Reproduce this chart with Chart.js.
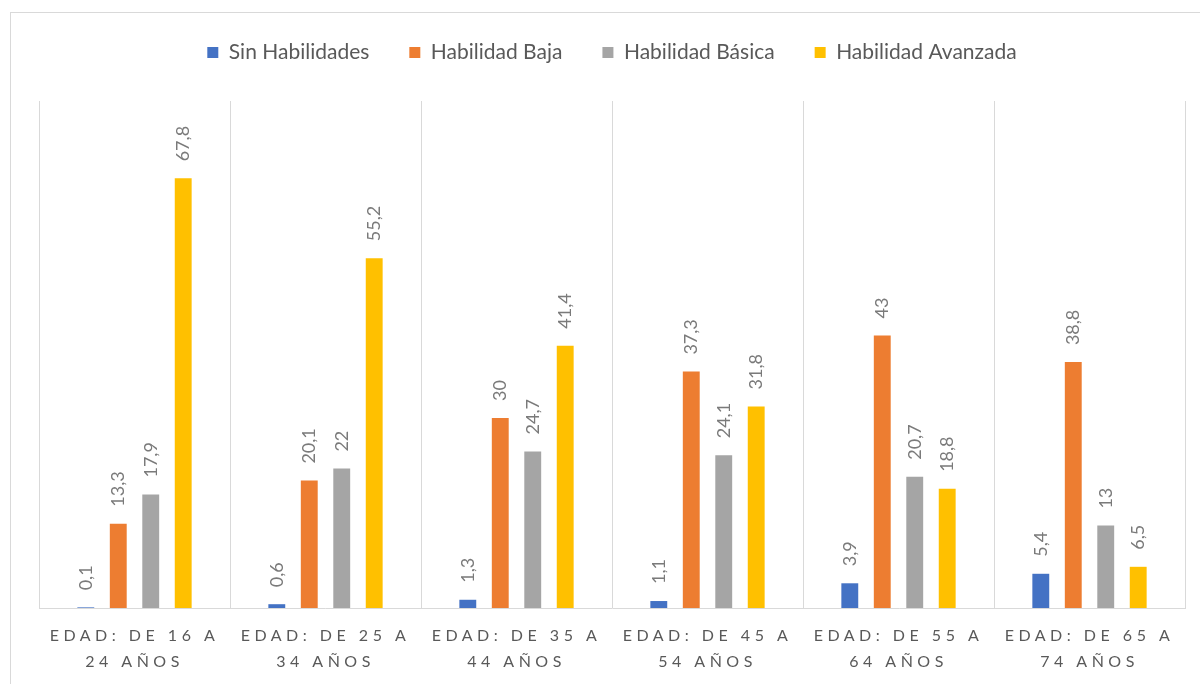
<!DOCTYPE html>
<html>
<head>
<meta charset="utf-8">
<script src="https://cdn.jsdelivr.net/npm/chart.js@4.4.1/dist/chart.umd.min.js"></script>
<style>
  body { margin: 0; background: #fff; }
  #frame { position: absolute; left: 10px; top: 12px; width: 1200px; height: 700px; border: 1px solid #d9d9d9; }
  #wrap { position: absolute; left: 0; top: 0; width: 1200px; height: 684px; }
</style>
</head>
<body>
<div id="frame"></div>
<div id="wrap"><canvas id="chart" width="1200" height="684"></canvas></div>
<script>
var categories = [
    ["EDAD: DE 16 A", "24 AÑOS"],
    ["EDAD: DE 25 A", "34 AÑOS"],
    ["EDAD: DE 35 A", "44 AÑOS"],
    ["EDAD: DE 45 A", "54 AÑOS"],
    ["EDAD: DE 55 A", "64 AÑOS"],
    ["EDAD: DE 65 A", "74 AÑOS"]
];
var sinHabilidades = [0.1, 0.6, 1.3, 1.1, 3.9, 5.4];
var habilidadBaja = [13.3, 20.1, 30, 37.3, 43, 38.8];
var habilidadBasica = [17.9, 22, 24.7, 24.1, 20.7, 13];
var habilidadAvanzada = [67.8, 55.2, 41.4, 31.8, 18.8, 6.5];

var textColor = "#595959";
var font = "Lato, 'Open Sans', sans-serif";

// labels on top of bars, turned 90 degrees
var barLabels = {
    id: "barLabels",
    beforeInit: function (chart) {
        // more room under the legend
        var fit = chart.legend.fit;
        chart.legend.fit = function () {
            fit.call(chart.legend);
            this.height += 28;
        };
    },
    afterDatasetsDraw: function (chart) {
        var ctx = chart.ctx;
        ctx.save();
        ctx.font = "18px " + font;
        ctx.fillStyle = "#7a7a7a";
        ctx.textAlign = "left";
        ctx.textBaseline = "middle";
        chart.data.datasets.forEach(function (ds, i) {
            chart.getDatasetMeta(i).data.forEach(function (bar, j) {
                var txt = String(ds.data[j]).replace(".", ",");
                ctx.save();
                ctx.translate(bar.x, bar.y - 17);
                ctx.rotate(-Math.PI / 2);
                ctx.fillText(txt, 0, 0);
                ctx.restore();
            });
        });
        ctx.restore();
        // spaced letters for the category axis (drawn after this, ticks.z = 1)
        ctx.letterSpacing = "4.5px";
    },
    afterDraw: function (chart) {
        chart.ctx.letterSpacing = "0px";
    }
};

new Chart("chart", {
    type: "bar",
    data: {
        labels: categories,
        datasets: [
            { label: "Sin Habilidades", data: sinHabilidades, backgroundColor: "#4472C4" },
            { label: "Habilidad Baja", data: habilidadBaja, backgroundColor: "#ED7D31" },
            { label: "Habilidad Básica", data: habilidadBasica, backgroundColor: "#A5A5A5" },
            { label: "Habilidad Avanzada", data: habilidadAvanzada, backgroundColor: "#FFC000" }
        ]
    },
    options: {
        responsive: false,
        animation: false,
        categoryPercentage: 0.68,
        barPercentage: 0.52,
        layout: { padding: { left: 39, right: 15, top: 2, bottom: 0 } },
        plugins: {
            legend: {
                position: "top",
                labels: {
                    boxWidth: 11,
                    boxHeight: 11,
                    padding: 40,
                    color: textColor,
                    font: { family: font, size: 21 }
                }
            },
            tooltip: { enabled: false }
        },
        scales: {
            x: {
                grid: { color: "#d9d9d9", drawTicks: false, offset: true },
                border: { color: "#d9d9d9" },
                ticks: {
                    z: 1,
                    color: textColor,
                    padding: 15,
                    maxRotation: 0,
                    autoSkip: false,
                    font: { family: font, size: 16, lineHeight: 1.6 }
                },
                afterFit: function (scale) { scale.height = 76; }
            },
            y: {
                display: false,
                min: 0,
                max: 80
            }
        }
    },
    plugins: [barLabels]
});
</script>
</body>
</html>
